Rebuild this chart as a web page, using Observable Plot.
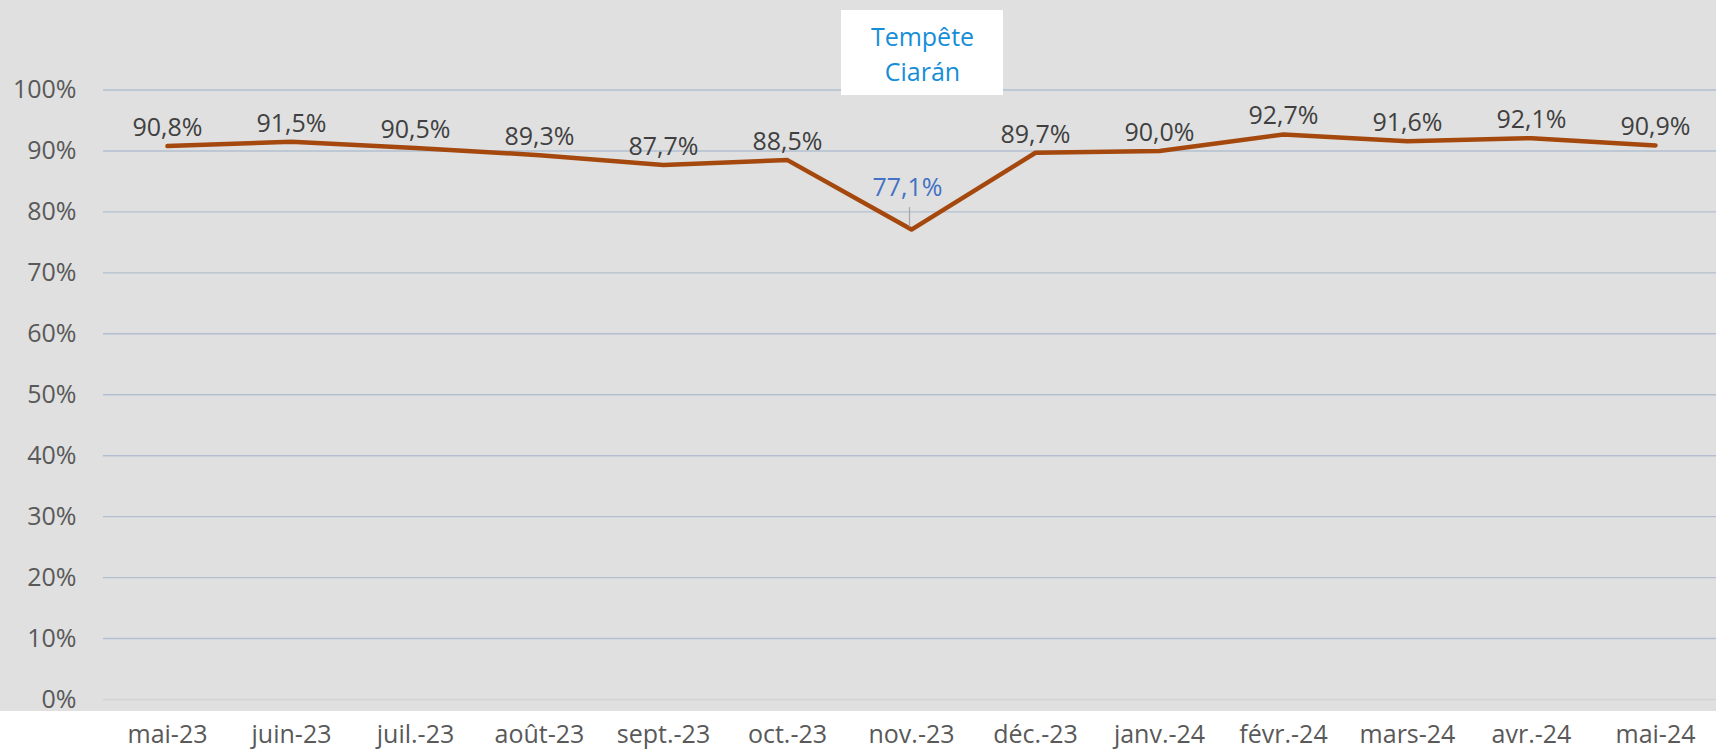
<!DOCTYPE html>
<html>
<head>
<meta charset="utf-8">
<script src="https://cdn.jsdelivr.net/npm/d3@7"></script>
<script src="https://cdn.jsdelivr.net/npm/@observablehq/plot@0.6"></script>
<style>
  html, body { margin: 0; padding: 0; background: #fff; }
</style>
</head>
<body>
<div id="chart"></div>
<script>
const months = ["mai-23","juin-23","juil.-23","août-23","sept.-23","oct.-23","nov.-23","déc.-23","janv.-24","févr.-24","mars-24","avr.-24","mai-24"];
const values = [90.8, 91.5, 90.5, 89.3, 87.7, 88.5, 77.1, 89.7, 90.0, 92.7, 91.6, 92.1, 90.9];
const yTicks = [0, 10, 20, 30, 40, 50, 60, 70, 80, 90, 100];
const highlightMonth = "nov.-23";
const annotation = [{month: "nov.-23", text: "Tempête\nCiarán"}];

const data = months.map((m, i) => ({month: m, value: values[i]}));
const normal = data.filter(d => d.month !== highlightMonth);
const special = data.filter(d => d.month === highlightMonth);
const fmt = v => v.toFixed(1).replace(".", ",") + "%";

const W = 1716, H = 749, mTop = 89.5, mBottom = 50;
const plotH = H - mTop - mBottom;
const pxToY = px => 100 * (H - mBottom - px) / plotH; // convert pixel row to data units
const FS = 25;

const chart = Plot.plot({
  width: W,
  height: H,
  marginTop: mTop,
  marginBottom: mBottom,
  marginLeft: 103,
  marginRight: 0,
  style: {
    fontFamily: "'Open Sans', sans-serif",
    fontSize: FS + "px",
    color: "#595959",
    background: "linear-gradient(to bottom, #e0e0e0 0px, #e0e0e0 711px, #ffffff 711px)",
    overflow: "visible"
  },
  x: {type: "point", domain: months, range: [163, 1659], padding: 0, label: null},
  y: {domain: [0, 100], label: null},
  marks: [
    Plot.ruleY(yTicks.filter(t => t > 0), {stroke: "#b3bfd0", strokeWidth: 1.4}),
    Plot.ruleY([0], {stroke: "#d3d3d3", strokeWidth: 1.4}),
    Plot.axisY(yTicks, {tickSize: 0, tickPadding: 27, tickFormat: d => d + "%", fontSize: FS, fill: "#595959"}),
    Plot.axisX({tickSize: 0, tickPadding: 26, fontSize: FS, fill: "#595959"}),
    Plot.line(data, {x: "month", y: "value", stroke: "#a5480e", strokeWidth: 4.5, strokeLinejoin: "round", strokeLinecap: "round"}),
    Plot.text(normal, {x: "month", y: "value", text: d => fmt(d.value), lineAnchor: "bottom", dy: -10, fill: "#404040", fontSize: FS}),
    Plot.ruleX(special, {x: "month", y1: d => d.value + 0.4, y2: d => d.value + 3.6, dx: -2, stroke: "#a6a6a6", strokeWidth: 1.2}),
    Plot.text(special, {x: "month", y: "value", text: d => fmt(d.value), lineAnchor: "bottom", dy: -34, dx: -4, fill: "#4472c4", fontSize: FS}),
    Plot.rect(annotation, {x1: "month", x2: "month", y1: pxToY(95), y2: pxToY(10), insetLeft: -70, insetRight: -92, fill: "#ffffff"}),
    Plot.text(annotation, {x: "month", y: pxToY(52), text: "text", dx: 11, lineAnchor: "middle", lineHeight: 1.4, fill: "#168ed6", fontSize: FS})
  ]
});
document.getElementById("chart").appendChild(chart);
</script>
</body>
</html>
